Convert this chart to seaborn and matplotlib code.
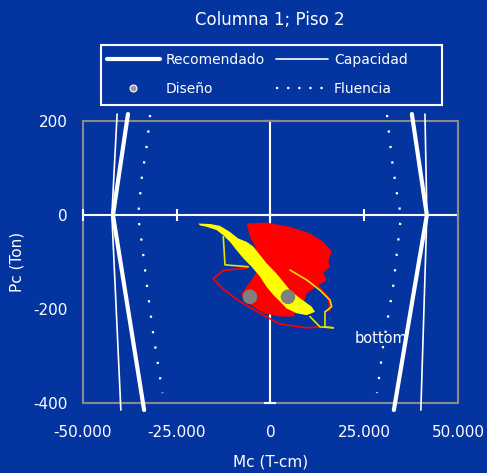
import matplotlib
matplotlib.use("Agg")
import matplotlib.pyplot as plt
import seaborn as sns
from matplotlib.lines import Line2D
from matplotlib.patches import Rectangle

# interaction curves (P in Ton, M in T-cm)
curve_p = [215, 0, -415]
recom_left_m = [-38000, -42000, -33700]
recom_right_m = [37700, 41700, 32900]
capac_left_m = [-40900, -42300, -39900]
capac_right_m = [41200, 41700, 40100]

fluen_left_p = [213, 153, 81, -2, -60, -153, -251, -379]
fluen_left_m = [-32100, -32900, -34300, -35300, -34300, -32900, -31300, -28800]
fluen_right_p = [213, 117, 47, -2, -60, -153, -281, -379]
fluen_right_m = [31070, 32400, 33700, 34800, 34000, 32700, 30000, 28400]

# design points
diseno_m = [-5470, 4670]
diseno_p = [-174, -174]

# red response cloud (outline of the filled area)
red_m = [-6350, -1020, 5200, 10530, 14080, 16310, 15420, 15870, 14080, 14980, 12310,
         9650, 8750, 6980, 6090, 2530, -1920, -4590, -7250, -7690, -6350, -5020,
         -3690, -3250, -4130, -5470]
red_p = [-18, -16, -25, -39, -57, -78, -99, -110, -124, -138, -152,
         -167, -188, -202, -216, -216, -209, -195, -181, -167, -152, -138,
         -121, -96, -67, -46]
# red loops
red_loop_m = [-6350, -12590, -15250, -12590, -8130, -2800, 2530, 9650, 13200]
red_loop_p = [-113, -118, -135, -158, -184, -209, -232, -240, -238]
red_arc_m = [5200, 11330, 15330, 15870, 14530]
red_arc_p = [-121, -138, -174, -202, -206]

# yellow response band
yel_m = [-19250, -16130, -13470, -10800, -8590, -6350, -4590, -2800, -1010, 1200, 3410,
         5200, 7870, 10990, 11870, 9650, 6990, 4320, 2530, 750, -1010, -2800, -5020,
         -7250, -9020, -10800, -12590, -14350, -17010, -18800]
yel_p = [-18, -19, -23, -36, -50, -57, -67, -85, -103, -121, -142,
         -160, -177, -195, -206, -213, -209, -199, -184, -170, -153, -131, -110,
         -92, -75, -57, -43, -32, -25, -22]
yel_loop1_m = [-12590, -12130, -5920]
yel_loop1_p = [-46, -106, -110]
yel_loop2_m = [5200, 9650, 13200, 15870, 16310, 14530, 14530, 16750]
yel_loop2_p = [-117, -138, -160, -181, -195, -206, -238, -240]
yel_loop3_m = [10530, 13200, 16750]
yel_loop3_p = [-216, -238, -240]

x_ticks = [-50000, -25000, 0, 25000, 50000]
x_labels = ['-50.000', '-25.000', '0', '25.000', '50.000']
y_ticks = [-400, -200, 0, 200]
y_labels = ['-400', '-200', '0', '200']

BG = '#0434a0'
GRAY = '#8a8a8a'

sns.set_theme(style='white')
plt.rcParams['font.family'] = ['DejaVu Sans']

fig = plt.figure(figsize=(4.87, 4.73), dpi=100, facecolor=BG)
ax = fig.add_axes([0.1704, 0.148, 0.770, 0.596])
ax.set_facecolor(BG)

# response
ax.fill(red_m, red_p, color='red', lw=0, zorder=2)
sns.lineplot(x=red_loop_m, y=red_loop_p, sort=False, estimator=None, color='red', lw=1.2, ax=ax, zorder=2)
sns.lineplot(x=red_arc_m, y=red_arc_p, sort=False, estimator=None, color='red', lw=1.2, ax=ax, zorder=2)
ax.fill(yel_m, yel_p, color='yellow', lw=0, zorder=3)
for mm, pp in [(yel_loop1_m, yel_loop1_p), (yel_loop2_m, yel_loop2_p), (yel_loop3_m, yel_loop3_p)]:
    sns.lineplot(x=mm, y=pp, sort=False, estimator=None, color='#e8e000', lw=1.2, ax=ax, zorder=3)

sns.scatterplot(x=diseno_m, y=diseno_p, color='#7f7f7f', s=110, edgecolor='none', ax=ax, zorder=4)

ax.text(22500, -262, 'bottom', color='white', fontsize=10.5, ha='left', va='center', zorder=4)

# interaction diagrams
for mm in [recom_left_m, recom_right_m]:
    sns.lineplot(x=mm, y=curve_p, sort=False, estimator=None, color='white', lw=3, ax=ax, zorder=5, clip_on=False)
for mm in [capac_left_m, capac_right_m]:
    sns.lineplot(x=mm, y=curve_p, sort=False, estimator=None, color='white', lw=1.2, ax=ax, zorder=5, clip_on=False)
for mm, pp in [(fluen_left_m, fluen_left_p), (fluen_right_m, fluen_right_p)]:
    sns.lineplot(x=mm, y=pp, sort=False, estimator=None, color='white', lw=1.6,
                 linestyle=(0, (1, 6)), ax=ax, zorder=5, clip_on=False)

ax.set_xlim(-50000, 50000)
ax.set_ylim(-400, 200)
ax.set_xlabel('')
ax.set_ylabel('')

# axes crossing at zero
ax.spines['left'].set_position(('data', 0))
ax.spines['bottom'].set_position(('data', 0))
for s in ['left', 'bottom']:
    ax.spines[s].set_color('white')
    ax.spines[s].set_linewidth(1.5)
    ax.spines[s].set_zorder(1)
for s in ['top', 'right']:
    ax.spines[s].set_color(GRAY)
    ax.spines[s].set_linewidth(1.5)
ax.set_xticks(x_ticks)
ax.set_yticks(y_ticks)
ax.tick_params(direction='inout', length=8, width=1.5, color='white',
               labelleft=False, labelbottom=False, bottom=True, left=True)

# outer labels
secx = ax.secondary_xaxis('bottom')
secx.set_xticks(x_ticks, labels=x_labels)
secx.tick_params(length=0, labelcolor='white', labelsize=11, pad=16)
secx.spines['bottom'].set_color(GRAY)
secx.spines['bottom'].set_linewidth(1.5)
secx.set_xlabel('Mc (T-cm)', color='white', fontsize=11, labelpad=10)

secy = ax.secondary_yaxis('left')
secy.set_yticks(y_ticks, labels=y_labels)
secy.tick_params(length=0, labelcolor='white', labelsize=11, pad=11)
secy.spines['left'].set_color(GRAY)
secy.spines['left'].set_linewidth(1.5)
secy.set_ylabel('Pc (Ton)', color='white', fontsize=11, labelpad=6)

fig.text(0.554, 1 - 20 / 473, 'Columna 1; Piso 2', color='white', fontsize=12,
         ha='center', va='center')

# legend box
fig.patches.append(Rectangle((101 / 487, 1 - 105 / 473), 341 / 487, 60 / 473,
                             transform=fig.transFigure, fill=False,
                             edgecolor='white', lw=1.5))
handles = [
    Line2D([], [], color='white', lw=3),
    Line2D([], [], color='none', marker='o', markersize=5, markerfacecolor='#9a9a9a',
           markeredgecolor='white', markeredgewidth=0.8),
    Line2D([], [], color='white', lw=1.2),
    Line2D([], [], color='white', lw=1.6, linestyle=(0, (1, 4))),
]
labels = ['Recomendado', 'Diseño', 'Capacidad', 'Fluencia']
leg = fig.legend(handles, labels, ncol=2, loc='upper left',
                 bbox_to_anchor=(107 / 487, 1 - 53 / 473),
                 frameon=False, fontsize=10, labelcolor='white', handlelength=3.8,
                 handletextpad=0.4, borderpad=0, borderaxespad=0,
                 labelspacing=1.05, columnspacing=0.8)

fig.savefig('out.png', dpi=100, facecolor=BG)
